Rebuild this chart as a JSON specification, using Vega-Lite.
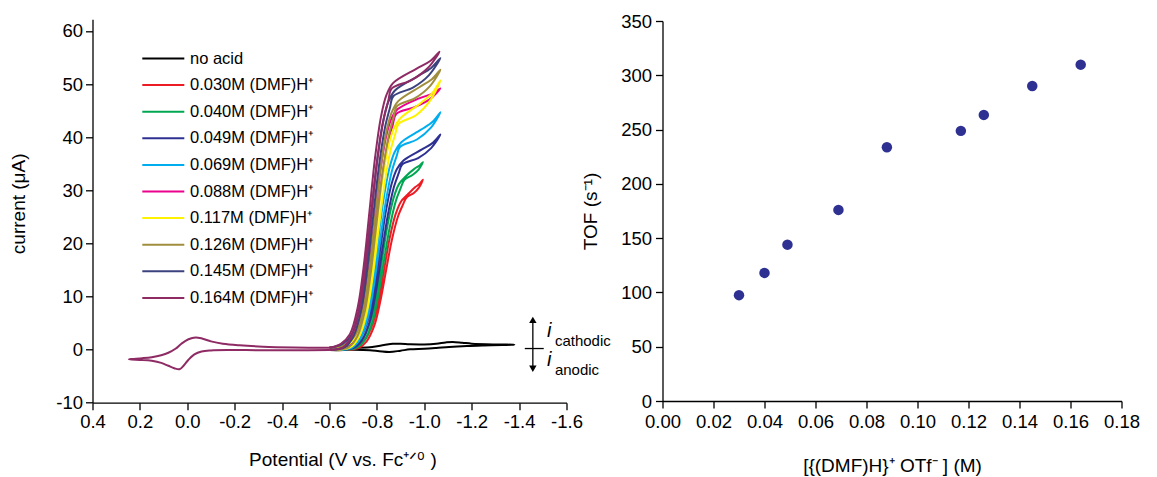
{
"$schema": "https://vega.github.io/schema/vega-lite/v6.json",
"background": "white",
"padding": {"left": 9.5, "top": 12, "right": 5, "bottom": 2},
"spacing": 96,
"bounds": "flush",
"center": true,
"config": {
 "font": "Liberation Sans",
 "view": {"stroke": null},
 "axis": {"grid": false, "domainColor": "#000", "tickColor": "#000", "labelColor": "#000", "titleColor": "#000", "labelFontSize": 18.5, "titleFontSize": 19, "titleFontWeight": "normal", "tickSize": 7, "domainWidth": 1.3, "tickWidth": 1.3, "labelPadding": 3, "labelFont": "Liberation Sans", "titleFont": "Liberation Sans", "labelFlush": false, "labelOverlap": false, "labelBound": false}
},
"datasets": {
 "cv": [
  {"s":"no acid","k":0,"E":-0.62,"I":0.33},{"s":"no acid","k":1,"E":-0.66,"I":0.3},{"s":"no acid","k":2,"E":-0.713,"I":0.35},{"s":"no acid","k":3,"E":-0.78,"I":0.5},{"s":"no acid","k":4,"E":-0.83,"I":0.85},{"s":"no acid","k":5,"E":-0.867,"I":1.1},{"s":"no acid","k":6,"E":-0.9,"I":1.1},{"s":"no acid","k":7,"E":-0.94,"I":1.0},{"s":"no acid","k":8,"E":-1.0,"I":0.98},{"s":"no acid","k":9,"E":-1.05,"I":1.1},{"s":"no acid","k":10,"E":-1.09,"I":1.35},{"s":"no acid","k":11,"E":-1.12,"I":1.45},{"s":"no acid","k":12,"E":-1.16,"I":1.3},{"s":"no acid","k":13,"E":-1.2,"I":1.12},{"s":"no acid","k":14,"E":-1.3,"I":0.97},{"s":"no acid","k":15,"E":-1.38,"I":0.92},{"s":"no acid","k":16,"E":-1.33,"I":0.86},{"s":"no acid","k":17,"E":-1.25,"I":0.78},{"s":"no acid","k":18,"E":-1.18,"I":0.68},{"s":"no acid","k":19,"E":-1.105,"I":0.5},{"s":"no acid","k":20,"E":-1.05,"I":0.3},{"s":"no acid","k":21,"E":-1.0,"I":0.15},{"s":"no acid","k":22,"E":-0.94,"I":0.05},{"s":"no acid","k":23,"E":-0.9,"I":-0.2},{"s":"no acid","k":24,"E":-0.853,"I":-0.45},{"s":"no acid","k":25,"E":-0.81,"I":-0.3},{"s":"no acid","k":26,"E":-0.77,"I":-0.12},{"s":"no acid","k":27,"E":-0.7,"I":-0.05},{"s":"no acid","k":28,"E":-0.62,"I":-0.08},

  {"s":"0.030","k":0,"E":-0.6,"I":0.33},{"s":"0.030","k":1,"E":-0.71,"I":0.77},{"s":"0.030","k":2,"E":-0.748,"I":1.8},{"s":"0.030","k":3,"E":-0.781,"I":4.7},{"s":"0.030","k":4,"E":-0.806,"I":9.1},{"s":"0.030","k":5,"E":-0.83,"I":15.0},{"s":"0.030","k":6,"E":-0.854,"I":21.0},{"s":"0.030","k":7,"E":-0.879,"I":25.5},{"s":"0.030","k":8,"E":-0.902,"I":27.9},{"s":"0.030","k":9,"E":-0.93,"I":29.2},{"s":"0.030","k":10,"E":-0.962,"I":30.6},{"s":"0.030","k":11,"E":-0.981,"I":31.24},{"s":"0.030","k":12,"E":-0.994,"I":32.0},{"s":"0.030","k":13,"E":-0.978,"I":30.55},{"s":"0.030","k":14,"E":-0.956,"I":29.49},{"s":"0.030","k":15,"E":-0.925,"I":28.65},{"s":"0.030","k":16,"E":-0.91,"I":27.3},{"s":"0.030","k":17,"E":-0.89,"I":25.2},{"s":"0.030","k":18,"E":-0.865,"I":21.0},{"s":"0.030","k":19,"E":-0.839,"I":15.0},{"s":"0.030","k":20,"E":-0.814,"I":9.0},{"s":"0.030","k":21,"E":-0.789,"I":4.5},{"s":"0.030","k":22,"E":-0.756,"I":1.5},{"s":"0.030","k":23,"E":-0.72,"I":0.25},{"s":"0.030","k":24,"E":-0.6,"I":-0.08},

  {"s":"0.040","k":0,"E":-0.6,"I":0.33},{"s":"0.040","k":1,"E":-0.701,"I":0.82},{"s":"0.040","k":2,"E":-0.739,"I":1.98},{"s":"0.040","k":3,"E":-0.772,"I":5.23},{"s":"0.040","k":4,"E":-0.797,"I":10.15},{"s":"0.040","k":5,"E":-0.821,"I":16.75},{"s":"0.040","k":6,"E":-0.845,"I":23.45},{"s":"0.040","k":7,"E":-0.87,"I":28.48},{"s":"0.040","k":8,"E":-0.893,"I":31.16},{"s":"0.040","k":9,"E":-0.921,"I":32.59},{"s":"0.040","k":10,"E":-0.958,"I":34.04},{"s":"0.040","k":11,"E":-0.979,"I":34.62},{"s":"0.040","k":12,"E":-0.994,"I":35.3},{"s":"0.040","k":13,"E":-0.976,"I":33.9},{"s":"0.040","k":14,"E":-0.95,"I":32.88},{"s":"0.040","k":15,"E":-0.916,"I":31.99},{"s":"0.040","k":16,"E":-0.901,"I":30.49},{"s":"0.040","k":17,"E":-0.881,"I":28.14},{"s":"0.040","k":18,"E":-0.856,"I":23.45},{"s":"0.040","k":19,"E":-0.83,"I":16.75},{"s":"0.040","k":20,"E":-0.805,"I":10.05},{"s":"0.040","k":21,"E":-0.78,"I":5.03},{"s":"0.040","k":22,"E":-0.747,"I":1.68},{"s":"0.040","k":23,"E":-0.711,"I":0.29},{"s":"0.040","k":24,"E":-0.6,"I":-0.08},

  {"s":"0.049","k":0,"E":-0.6,"I":0.33},{"s":"0.049","k":1,"E":-0.692,"I":0.87},{"s":"0.049","k":2,"E":-0.73,"I":2.13},{"s":"0.049","k":3,"E":-0.763,"I":5.68},{"s":"0.049","k":4,"E":-0.788,"I":11.05},{"s":"0.049","k":5,"E":-0.812,"I":18.25},{"s":"0.049","k":6,"E":-0.836,"I":25.55},{"s":"0.049","k":7,"E":-0.861,"I":31.03},{"s":"0.049","k":8,"E":-0.884,"I":33.95},{"s":"0.049","k":9,"E":-0.912,"I":35.61},{"s":"0.049","k":10,"E":-0.99,"I":37.7},{"s":"0.049","k":11,"E":-1.037,"I":38.98},{"s":"0.049","k":12,"E":-1.068,"I":40.5},{"s":"0.049","k":13,"E":-1.029,"I":37.95},{"s":"0.049","k":14,"E":-0.974,"I":36.07},{"s":"0.049","k":15,"E":-0.907,"I":34.86},{"s":"0.049","k":16,"E":-0.892,"I":33.22},{"s":"0.049","k":17,"E":-0.872,"I":30.66},{"s":"0.049","k":18,"E":-0.847,"I":25.55},{"s":"0.049","k":19,"E":-0.821,"I":18.25},{"s":"0.049","k":20,"E":-0.796,"I":10.95},{"s":"0.049","k":21,"E":-0.771,"I":5.48},{"s":"0.049","k":22,"E":-0.738,"I":1.83},{"s":"0.049","k":23,"E":-0.702,"I":0.32},{"s":"0.049","k":24,"E":-0.6,"I":-0.08},

  {"s":"0.069","k":0,"E":-0.6,"I":0.33},{"s":"0.069","k":1,"E":-0.683,"I":0.92},{"s":"0.069","k":2,"E":-0.721,"I":2.3},{"s":"0.069","k":3,"E":-0.754,"I":6.2},{"s":"0.069","k":4,"E":-0.779,"I":12.1},{"s":"0.069","k":5,"E":-0.803,"I":20.0},{"s":"0.069","k":6,"E":-0.827,"I":28.0},{"s":"0.069","k":7,"E":-0.852,"I":34.0},{"s":"0.069","k":8,"E":-0.875,"I":37.2},{"s":"0.069","k":9,"E":-0.903,"I":39.04},{"s":"0.069","k":10,"E":-0.986,"I":41.41},{"s":"0.069","k":11,"E":-1.035,"I":42.91},{"s":"0.069","k":12,"E":-1.068,"I":44.7},{"s":"0.069","k":13,"E":-1.027,"I":41.75},{"s":"0.069","k":14,"E":-0.969,"I":39.56},{"s":"0.069","k":15,"E":-0.898,"I":38.2},{"s":"0.069","k":16,"E":-0.883,"I":36.4},{"s":"0.069","k":17,"E":-0.863,"I":33.6},{"s":"0.069","k":18,"E":-0.838,"I":28.0},{"s":"0.069","k":19,"E":-0.812,"I":20.0},{"s":"0.069","k":20,"E":-0.787,"I":12.0},{"s":"0.069","k":21,"E":-0.762,"I":6.0},{"s":"0.069","k":22,"E":-0.729,"I":2.0},{"s":"0.069","k":23,"E":-0.693,"I":0.35},{"s":"0.069","k":24,"E":-0.6,"I":-0.08},

  {"s":"0.088","k":0,"E":-0.6,"I":0.33},{"s":"0.088","k":1,"E":-0.667,"I":1.02},{"s":"0.088","k":2,"E":-0.705,"I":2.63},{"s":"0.088","k":3,"E":-0.738,"I":7.18},{"s":"0.088","k":4,"E":-0.763,"I":14.05},{"s":"0.088","k":5,"E":-0.787,"I":23.25},{"s":"0.088","k":6,"E":-0.811,"I":32.55},{"s":"0.088","k":7,"E":-0.836,"I":39.53},{"s":"0.088","k":8,"E":-0.859,"I":43.25},{"s":"0.088","k":9,"E":-0.887,"I":45.24},{"s":"0.088","k":10,"E":-0.978,"I":47.31},{"s":"0.088","k":11,"E":-1.032,"I":48.17},{"s":"0.088","k":12,"E":-1.068,"I":49.2},{"s":"0.088","k":13,"E":-1.023,"I":47.15},{"s":"0.088","k":14,"E":-0.959,"I":45.66},{"s":"0.088","k":15,"E":-0.882,"I":44.41},{"s":"0.088","k":16,"E":-0.867,"I":42.32},{"s":"0.088","k":17,"E":-0.847,"I":39.06},{"s":"0.088","k":18,"E":-0.822,"I":32.55},{"s":"0.088","k":19,"E":-0.796,"I":23.25},{"s":"0.088","k":20,"E":-0.771,"I":13.95},{"s":"0.088","k":21,"E":-0.746,"I":6.98},{"s":"0.088","k":22,"E":-0.713,"I":2.33},{"s":"0.088","k":23,"E":-0.677,"I":0.42},{"s":"0.088","k":24,"E":-0.6,"I":-0.08},

  {"s":"0.117","k":0,"E":-0.6,"I":0.33},{"s":"0.117","k":1,"E":-0.677,"I":0.99},{"s":"0.117","k":2,"E":-0.715,"I":2.53},{"s":"0.117","k":3,"E":-0.748,"I":6.88},{"s":"0.117","k":4,"E":-0.773,"I":13.45},{"s":"0.117","k":5,"E":-0.797,"I":22.25},{"s":"0.117","k":6,"E":-0.821,"I":31.15},{"s":"0.117","k":7,"E":-0.846,"I":37.83},{"s":"0.117","k":8,"E":-0.869,"I":41.39},{"s":"0.117","k":9,"E":-0.897,"I":43.48},{"s":"0.117","k":10,"E":-0.983,"I":46.36},{"s":"0.117","k":11,"E":-1.034,"I":48.34},{"s":"0.117","k":12,"E":-1.068,"I":50.7},{"s":"0.117","k":13,"E":-1.025,"I":46.93},{"s":"0.117","k":14,"E":-0.965,"I":44.13},{"s":"0.117","k":15,"E":-0.892,"I":42.5},{"s":"0.117","k":16,"E":-0.877,"I":40.5},{"s":"0.117","k":17,"E":-0.857,"I":37.38},{"s":"0.117","k":18,"E":-0.832,"I":31.15},{"s":"0.117","k":19,"E":-0.806,"I":22.25},{"s":"0.117","k":20,"E":-0.781,"I":13.35},{"s":"0.117","k":21,"E":-0.756,"I":6.68},{"s":"0.117","k":22,"E":-0.723,"I":2.23},{"s":"0.117","k":23,"E":-0.687,"I":0.4},{"s":"0.117","k":24,"E":-0.6,"I":-0.08},

  {"s":"0.126","k":0,"E":-0.6,"I":0.33},{"s":"0.126","k":1,"E":-0.67,"I":1.04},{"s":"0.126","k":2,"E":-0.708,"I":2.7},{"s":"0.126","k":3,"E":-0.741,"I":7.4},{"s":"0.126","k":4,"E":-0.766,"I":14.5},{"s":"0.126","k":5,"E":-0.79,"I":24.0},{"s":"0.126","k":6,"E":-0.814,"I":33.6},{"s":"0.126","k":7,"E":-0.839,"I":40.8},{"s":"0.126","k":8,"E":-0.862,"I":44.64},{"s":"0.126","k":9,"E":-0.89,"I":46.8},{"s":"0.126","k":10,"E":-0.979,"I":49.41},{"s":"0.126","k":11,"E":-1.032,"I":50.91},{"s":"0.126","k":12,"E":-1.068,"I":52.7},{"s":"0.126","k":13,"E":-1.024,"I":49.63},{"s":"0.126","k":14,"E":-0.961,"I":47.36},{"s":"0.126","k":15,"E":-0.885,"I":45.84},{"s":"0.126","k":16,"E":-0.87,"I":43.68},{"s":"0.126","k":17,"E":-0.85,"I":40.32},{"s":"0.126","k":18,"E":-0.825,"I":33.6},{"s":"0.126","k":19,"E":-0.799,"I":24.0},{"s":"0.126","k":20,"E":-0.774,"I":14.4},{"s":"0.126","k":21,"E":-0.749,"I":7.2},{"s":"0.126","k":22,"E":-0.716,"I":2.4},{"s":"0.126","k":23,"E":-0.68,"I":0.43},{"s":"0.126","k":24,"E":-0.6,"I":-0.08},

  {"s":"0.145","k":0,"E":-0.6,"I":0.33},{"s":"0.145","k":1,"E":-0.655,"I":1.07},{"s":"0.145","k":2,"E":-0.693,"I":2.8},{"s":"0.145","k":3,"E":-0.726,"I":7.7},{"s":"0.145","k":4,"E":-0.751,"I":15.1},{"s":"0.145","k":5,"E":-0.775,"I":25.0},{"s":"0.145","k":6,"E":-0.799,"I":35.0},{"s":"0.145","k":7,"E":-0.824,"I":42.5},{"s":"0.145","k":8,"E":-0.847,"I":46.5},{"s":"0.145","k":9,"E":-0.875,"I":48.75},{"s":"0.145","k":10,"E":-0.972,"I":51.47},{"s":"0.145","k":11,"E":-1.029,"I":53.04},{"s":"0.145","k":12,"E":-1.068,"I":54.9},{"s":"0.145","k":13,"E":-1.02,"I":51.7},{"s":"0.145","k":14,"E":-0.952,"I":49.34},{"s":"0.145","k":15,"E":-0.87,"I":47.75},{"s":"0.145","k":16,"E":-0.855,"I":45.5},{"s":"0.145","k":17,"E":-0.835,"I":42.0},{"s":"0.145","k":18,"E":-0.81,"I":35.0},{"s":"0.145","k":19,"E":-0.784,"I":25.0},{"s":"0.145","k":20,"E":-0.759,"I":15.0},{"s":"0.145","k":21,"E":-0.734,"I":7.5},{"s":"0.145","k":22,"E":-0.701,"I":2.5},{"s":"0.145","k":23,"E":-0.665,"I":0.45},{"s":"0.145","k":24,"E":-0.6,"I":-0.08},

  {"s":"0.164","k":0,"E":-0.6,"I":0.33},{"s":"0.164","k":1,"E":-0.648,"I":1.09},{"s":"0.164","k":2,"E":-0.686,"I":2.88},{"s":"0.164","k":3,"E":-0.719,"I":7.93},{"s":"0.164","k":4,"E":-0.744,"I":15.55},{"s":"0.164","k":5,"E":-0.768,"I":25.75},{"s":"0.164","k":6,"E":-0.792,"I":36.05},{"s":"0.164","k":7,"E":-0.817,"I":43.78},{"s":"0.164","k":8,"E":-0.84,"I":47.9},{"s":"0.164","k":9,"E":-0.868,"I":50.19},{"s":"0.164","k":10,"E":-0.966,"I":52.88},{"s":"0.164","k":11,"E":-1.025,"I":54.35},{"s":"0.164","k":12,"E":-1.064,"I":56.1},{"s":"0.164","k":13,"E":-1.015,"I":53.03},{"s":"0.164","k":14,"E":-0.946,"I":50.76},{"s":"0.164","k":15,"E":-0.863,"I":49.18},{"s":"0.164","k":16,"E":-0.848,"I":46.87},{"s":"0.164","k":17,"E":-0.828,"I":43.26},{"s":"0.164","k":18,"E":-0.803,"I":36.05},{"s":"0.164","k":19,"E":-0.777,"I":25.75},{"s":"0.164","k":20,"E":-0.752,"I":15.45},{"s":"0.164","k":21,"E":-0.727,"I":7.73},{"s":"0.164","k":22,"E":-0.694,"I":2.58},{"s":"0.164","k":23,"E":-0.658,"I":0.47},{"s":"0.164","k":24,"E":-0.6,"I":-0.08}
 ],
 "fc": [
  {"k":0,"E":-0.6,"I":-0.08},{"k":1,"E":-0.45,"I":-0.12},{"k":2,"E":-0.3,"I":-0.12},{"k":3,"E":-0.18,"I":-0.08},{"k":4,"E":-0.1,"I":-0.15},{"k":5,"E":-0.06,"I":-0.35},{"k":6,"E":-0.03,"I":-0.9},{"k":7,"E":-0.005,"I":-1.9},{"k":8,"E":0.015,"I":-3.0},{"k":9,"E":0.033,"I":-3.7},{"k":10,"E":0.055,"I":-3.5},{"k":11,"E":0.08,"I":-3.05},{"k":12,"E":0.11,"I":-2.5},{"k":13,"E":0.15,"I":-2.12},{"k":14,"E":0.2,"I":-1.95},{"k":15,"E":0.235,"I":-1.88},{"k":16,"E":0.246,"I":-1.82},{"k":17,"E":0.232,"I":-1.76},{"k":18,"E":0.19,"I":-1.62},{"k":19,"E":0.15,"I":-1.42},{"k":20,"E":0.11,"I":-1.05},{"k":21,"E":0.08,"I":-0.6},{"k":22,"E":0.05,"I":0.15},{"k":23,"E":0.025,"I":1.1},{"k":24,"E":-0.005,"I":1.95},{"k":25,"E":-0.035,"I":2.3},{"k":26,"E":-0.065,"I":2.05},{"k":27,"E":-0.1,"I":1.55},{"k":28,"E":-0.15,"I":1.1},{"k":29,"E":-0.22,"I":0.8},{"k":30,"E":-0.32,"I":0.55},{"k":31,"E":-0.45,"I":0.4},{"k":32,"E":-0.6,"I":0.33}
 ],
 "tof": [
  {"c":0.030,"tof":97.5},{"c":0.040,"tof":118},{"c":0.049,"tof":144},{"c":0.069,"tof":176},{"c":0.088,"tof":233.7},{"c":0.117,"tof":248.8},{"c":0.126,"tof":263.5},{"c":0.145,"tof":290.2},{"c":0.164,"tof":309.8}
 ],
 "note": [{"a": "annotation"}]
},
"hconcat": [
 {
  "width": 474,
  "height": 383.4,
  "layer": [
   {
    "data": {"name": "cv"},
    "mark": {"type": "line", "strokeWidth": 2, "interpolate": "catmull-rom"},
    "encoding": {
     "x": {"field": "E", "type": "quantitative", "scale": {"domain": [-1.6, 0.4], "reverse": true, "nice": false, "zero": false},
       "axis": {"values": [0.4, 0.2, 0, -0.2, -0.4, -0.6, -0.8, -1.0, -1.2, -1.4, -1.6], "format": ".1f", "labelExpr": "replace(datum.label, '\u2212', '-')", "title": "Potential (V vs. Fc\u207a\u141f\u2070 )", "titlePadding": 19, "titleX": 250}},
     "y": {"field": "I", "type": "quantitative", "scale": {"domain": [-10, 62.2], "nice": false, "zero": false},
       "axis": {"values": [-10, -5, 0, 5, 10, 15, 20, 25, 30, 35, 40, 45, 50, 55, 60], "labelExpr": "replace(datum.label, '\u2212', '-')", "title": "current (\u03bcA)", "titlePadding": 27, "titleY": 184}},
     "color": {"field": "s", "type": "nominal",
       "scale": {"domain": ["no acid", "0.030", "0.040", "0.049", "0.069", "0.088", "0.117", "0.126", "0.145", "0.164"],
                 "range": ["#000000", "#ED1C24", "#00A651", "#2E3192", "#00AEEF", "#EC008C", "#FFF200", "#A08E3E", "#3C427E", "#8E2A64"]},
       "legend": {"title": null, "orient": "none", "legendX": 48.8, "legendY": 31.5, "symbolType": "stroke", "symbolSize": 1764, "symbolStrokeWidth": 2, "clipHeight": 16, "rowPadding": 9.6, "labelFontSize": 16.5, "labelOffset": 4.7, "padding": 0, "labelColor": "#000", "labelLimit": 300,
                  "labelExpr": "datum.label == 'no acid' ? 'no acid' : datum.label + 'M (DMF)H\u207a'"}},
     "order": {"field": "k", "type": "quantitative"}
    }
   },
   {
    "data": {"name": "fc"},
    "mark": {"type": "line", "strokeWidth": 2, "interpolate": "catmull-rom", "color": "#8E2A64"},
    "encoding": {
     "x": {"field": "E", "type": "quantitative"},
     "y": {"field": "I", "type": "quantitative"},
     "order": {"field": "k", "type": "quantitative"}
    }
   },
   {
    "data": {"name": "note"},
    "mark": {"type": "rule", "color": "#000", "strokeWidth": 1.3},
    "encoding": {"x": {"datum": -1.458}, "y": {"datum": -3.2}, "y2": {"datum": 5.0}}
   },
   {
    "data": {"name": "note"},
    "mark": {"type": "rule", "color": "#000", "strokeWidth": 1.3},
    "encoding": {"x": {"datum": -1.424}, "x2": {"datum": -1.504}, "y": {"datum": 0.2}}
   },
   {
    "data": {"name": "note"},
    "mark": {"type": "point", "shape": "triangle-up", "filled": true, "color": "#000", "size": 55, "opacity": 1},
    "encoding": {"x": {"datum": -1.458}, "y": {"datum": 5.6}}
   },
   {
    "data": {"name": "note"},
    "mark": {"type": "point", "shape": "triangle-down", "filled": true, "color": "#000", "size": 55, "opacity": 1},
    "encoding": {"x": {"datum": -1.458}, "y": {"datum": -3.6}}
   },
   {
    "data": {"name": "note"},
    "mark": {"type": "text", "text": "i", "fontStyle": "italic", "fontSize": 20, "align": "left", "baseline": "alphabetic", "color": "#000"},
    "encoding": {"x": {"datum": -1.518}, "y": {"datum": 2.3}}
   },
   {
    "data": {"name": "note"},
    "mark": {"type": "text", "text": "cathodic", "fontSize": 15, "align": "left", "baseline": "alphabetic", "color": "#000"},
    "encoding": {"x": {"datum": -1.551}, "y": {"datum": 0.64}}
   },
   {
    "data": {"name": "note"},
    "mark": {"type": "text", "text": "i", "fontStyle": "italic", "fontSize": 20, "align": "left", "baseline": "alphabetic", "color": "#000"},
    "encoding": {"x": {"datum": -1.518}, "y": {"datum": -3.1}}
   },
   {
    "data": {"name": "note"},
    "mark": {"type": "text", "text": "anodic", "fontSize": 15, "align": "left", "baseline": "alphabetic", "color": "#000"},
    "encoding": {"x": {"datum": -1.551}, "y": {"datum": -4.8}}
   }
  ]
 },
 {
  "width": 459,
  "height": 380,
  "data": {"name": "tof"},
  "mark": {"type": "point", "filled": true, "color": "#2E3192", "size": 110, "opacity": 1},
  "encoding": {
   "x": {"field": "c", "type": "quantitative", "scale": {"domain": [0, 0.18], "nice": false},
     "axis": {"values": [0, 0.02, 0.04, 0.06, 0.08, 0.10, 0.12, 0.14, 0.16, 0.18], "format": ".2f", "title": "[{(DMF)H}\u207a OTf\u207b ] (M)", "titlePadding": 26, "labelPadding": 4}},
   "y": {"field": "tof", "type": "quantitative", "scale": {"domain": [0, 350], "nice": false},
     "axis": {"values": [0, 50, 100, 150, 200, 250, 300, 350], "title": "TOF (s\u207b\u00b9)", "titlePadding": 20, "labelPadding": 4}}
  }
 }
]
}
